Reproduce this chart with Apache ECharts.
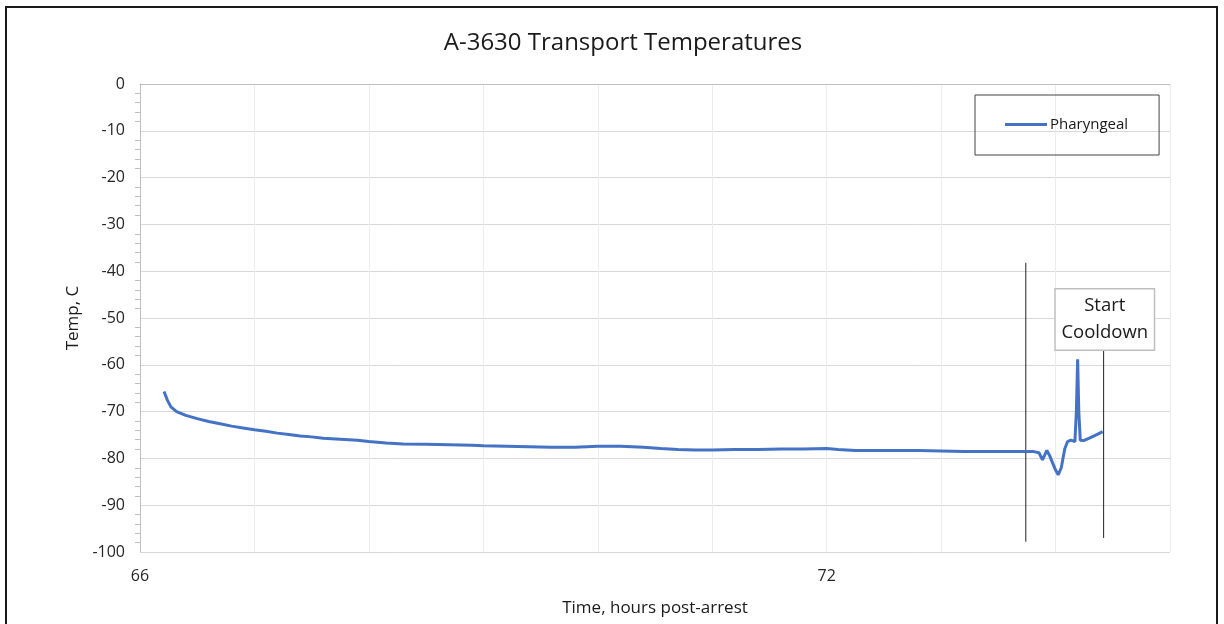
<!DOCTYPE html>
<html>
<head>
<meta charset="utf-8">
<script src="https://cdn.jsdelivr.net/npm/echarts@6/dist/echarts.min.js"></script>
<style>html,body{margin:0;padding:0;background:#fff;}#c{width:1224px;height:624px;}</style>
</head>
<body>
<div id="c"></div>
<script>
// Time (hours post-arrest)
const hours = [
  66.21, 66.24, 66.27, 66.32, 66.40, 66.50, 66.60, 66.70, 66.80, 66.90,
  67.00, 67.10, 67.20, 67.30, 67.40, 67.50, 67.60, 67.75, 67.90, 68.00,
  68.15, 68.30, 68.50, 68.70, 68.90, 69.00, 69.20, 69.40, 69.60, 69.80,
  70.00, 70.20, 70.40, 70.55, 70.70, 70.85, 71.00, 71.20, 71.40, 71.60,
  71.80, 72.00, 72.10, 72.25, 72.40, 72.60, 72.80, 73.00, 73.20, 73.40,
  73.60, 73.80, 73.855, 73.886, 73.924, 73.95, 74.00, 74.023, 74.05, 74.08,
  74.105, 74.134, 74.169, 74.182, 74.193, 74.203, 74.216, 74.245, 74.30, 74.36,
  74.411
];
// Pharyngeal temperature (C)
const pharyngeal = [
  -65.7, -67.6, -69.0, -70.0, -70.8, -71.5, -72.1, -72.6, -73.1, -73.5,
  -73.9, -74.2, -74.6, -74.9, -75.2, -75.4, -75.7, -75.9, -76.1, -76.4,
  -76.7, -76.9, -77.0, -77.1, -77.2, -77.3, -77.4, -77.5, -77.6, -77.6,
  -77.4, -77.4, -77.6, -77.9, -78.1, -78.2, -78.2, -78.1, -78.1, -78.0,
  -78.0, -77.9, -78.1, -78.3, -78.3, -78.3, -78.3, -78.4, -78.5, -78.5,
  -78.5, -78.5, -78.8, -80.3, -78.3, -79.5, -82.5, -83.5, -82.0, -78.0,
  -76.4, -76.1, -76.4, -70.0, -58.8, -70.0, -76.1, -76.2, -75.6, -74.9,
  -74.3
];
// Annotation markers: [hour, topTemp, bottomTemp]
const marker1 = [73.74, -38.2, -97.8];
const marker2 = [74.42, -56.8, -97.0];
const noteText = ['Start', 'Cooldown'];
const notePos = [74.43, -50.3];
const xTickLabels = [66, 72];

const chart = echarts.init(document.getElementById('c'), null, {renderer: 'canvas'});
const font = 'Open Sans, Noto Sans, sans-serif';
chart.setOption({
  animation: false,
  backgroundColor: '#fff',
  title: {
    text: 'A-3630 Transport Temperatures',
    left: 618, top: 26, textAlign: 'center',
    textStyle: {fontFamily: font, fontSize: 24, fontWeight: 'normal', color: '#1a1a1a'}
  },
  graphic: [{
    type: 'rect', shape: {x: 6, y: 7, width: 1211, height: 640},
    style: {fill: 'none', stroke: '#1a1a1a', lineWidth: 2}, silent: true
  }],
  legend: {
    left: 975, top: 95,
    padding: [22, 31, 23, 30],
    itemWidth: 42, itemHeight: 3, itemGap: 4,
    borderColor: '#444', borderWidth: 1,
    data: [{name: 'Pharyngeal', icon: 'rect'}],
    textStyle: {fontFamily: font, fontSize: 15, color: '#1a1a1a', padding: [0,0,0,-2]}
  },
  grid: {left: 140, right: 54, top: 84, bottom: 72, containLabel: false},
  xAxis: {
    type: 'value', min: 66, max: 75, interval: 1,
    name: 'Time, hours post-arrest', nameLocation: 'middle', nameGap: 48,
    nameTextStyle: {fontFamily: font, fontSize: 17, color: '#1a1a1a'},
    axisLine: {show: true, lineStyle: {color: '#bfbfbf'}},
    axisTick: {show: false},
    axisLabel: {
      fontFamily: font, fontSize: 16, color: '#262626', margin: 16,
      formatter: v => xTickLabels.includes(Math.round(v * 1000) / 1000) ? String(v) : ''
    },
    splitLine: {show: true, lineStyle: {color: '#ececec'}}
  },
  yAxis: {
    type: 'value', min: -100, max: 0, interval: 10,
    name: 'Temp, C', nameLocation: 'middle', nameGap: 58, nameRotate: 90,
    nameTextStyle: {fontFamily: font, fontSize: 17, color: '#1a1a1a'},
    axisLine: {show: true, lineStyle: {color: '#bfbfbf'}},
    axisTick: {show: false},
    minorTick: {show: true, splitNumber: 5, length: 5, lineStyle: {color: '#bfbfbf'}},
    axisLabel: {fontFamily: font, fontSize: 16, color: '#262626', margin: 15},
    splitLine: {show: true, lineStyle: {color: '#d9d9d9'}}
  },
  series: [
    {
      name: 'Pharyngeal', type: 'line', showSymbol: false, symbol: 'none',
      data: hours.map((h, i) => [h, pharyngeal[i]]),
      lineStyle: {color: '#4472C4', width: 3}, itemStyle: {color: '#4472C4'},
      z: 3
    },
    {
      name: 'm1', type: 'line', symbol: 'none', silent: true,
      data: [[marker1[0], marker1[1]], [marker1[0], marker1[2]]],
      lineStyle: {color: '#222', width: 1}, z: 2
    },
    {
      name: 'm2', type: 'line', symbol: 'none', silent: true,
      data: [[marker2[0], marker2[1]], [marker2[0], marker2[2]]],
      lineStyle: {color: '#222', width: 1}, z: 2
    },
    {
      name: 'note', type: 'scatter', symbolSize: 0, silent: true,
      data: [notePos],
      itemStyle: {opacity: 1},
      label: {
        show: true, position: 'inside',
        formatter: noteText.join('\n'),
        fontFamily: font, fontSize: 18.5, lineHeight: 27, color: '#1a1a1a',
        backgroundColor: '#fff', borderColor: '#bfbfbf', borderWidth: 1.5,
        padding: [3, 4, 3, 4], width: 90, align: 'center'
      },
      z: 4
    }
  ]
});
</script>
</body>
</html>
